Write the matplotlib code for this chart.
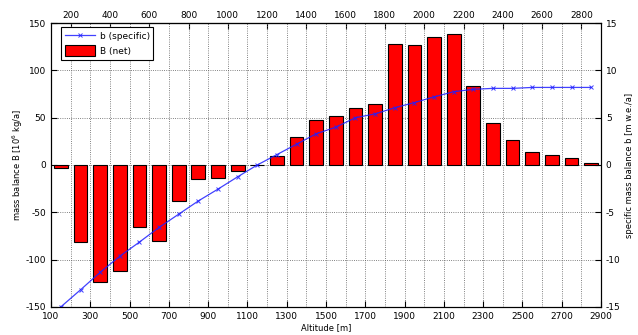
import numpy as np
import matplotlib
matplotlib.use("Agg")
import matplotlib.pyplot as plt

# altitude band centres [m]
altitude = [150, 250, 350, 450, 550, 650, 750, 850, 950, 1050,
            1150, 1250, 1350, 1450, 1550, 1650, 1750, 1850, 1950, 2050,
            2150, 2250, 2350, 2450, 2550, 2650, 2750, 2850]

# net mass balance per band [10^6 kg/a]
B_net = [-3.5, -81, -124, -112, -66, -80, -38, -15, -14, -6,
         0, 10, 30, 48, 52, 60, 64, 128, 127, 135,
         139, 84, 44, 26, 14, 11, 7, 2]

# specific mass balance per band [m w.e./a]
b_spec = [-15.0, -13.2, -11.35, -9.65, -8.15, -6.6, -5.2, -3.8, -2.55, -1.25,
          0.0, 1.1, 2.2, 3.3, 4.0, 5.0, 5.4, 6.05, 6.6, 7.2,
          7.75, 8.0, 8.1, 8.1, 8.2, 8.2, 8.2, 8.2]

bottom_ticks = list(range(100, 3000, 200))
top_ticks = list(range(200, 2900, 200))

plt.rcParams["font.family"] = "DejaVu Sans"
plt.rcParams["font.size"] = 6.5
plt.rcParams["axes.unicode_minus"] = False

fig = plt.figure(figsize=(6.38, 3.35), dpi=100)
ax = fig.add_axes([0.080, 0.084, 0.862, 0.847])

bars = ax.bar(altitude, B_net, width=70, color="#ff0000", edgecolor="black",
              linewidth=0.8, label="B (net)", zorder=2)
ax.set_xlim(100, 2900)
ax.set_ylim(-150, 150)
ax.set_yticks(range(-150, 151, 50))
ax.set_xticks(bottom_ticks)
ax.set_xticks(top_ticks, minor=True)
ax.tick_params(axis="x", which="major", direction="in", length=4, top=False)
ax.tick_params(axis="x", which="minor", length=0, top=False)
ax.tick_params(axis="y", direction="in", length=4, right=False)
ax.grid(True, which="both", axis="x", linestyle=":", color="0.35", linewidth=0.6)
ax.grid(True, which="major", axis="y", linestyle=":", color="0.35", linewidth=0.6)
ax.set_axisbelow(True)
ax.set_xlabel("Altitude [m]", fontsize=6, labelpad=2)
ax.set_ylabel("mass balance B [10$^6$ kg/a]", fontsize=6)
ax.yaxis.set_label_coords(-0.047, 0.5)

top = ax.secondary_xaxis("top")
top.set_xticks(top_ticks)
top.tick_params(direction="in", length=4, pad=2)

ax2 = ax.twinx()
line, = ax2.plot(altitude, b_spec, color="#2020ff", linewidth=0.9,
                 marker="x", markersize=3, markeredgewidth=0.7,
                 label="b (specific)", alpha=0.85)
ax2.set_ylim(-15, 15)
ax2.set_yticks(range(-15, 16, 5))
ax2.tick_params(axis="y", direction="in", length=4)
ax2.set_ylabel("specific mass balance b [m w.e./a]", fontsize=6)
ax2.yaxis.set_label_coords(1.043, 0.5)

leg = ax2.legend([line, bars], ["b (specific)", "B (net)"], loc="upper left",
                 bbox_to_anchor=(0.018, 0.986), borderaxespad=0,
                 fancybox=False, framealpha=1, edgecolor="black",
                 handlelength=3.4, handleheight=1.5, handletextpad=0.5,
                 borderpad=0.4, labelspacing=0.4)
leg.get_frame().set_linewidth(0.8)

fig.savefig("out.png", dpi=100)
